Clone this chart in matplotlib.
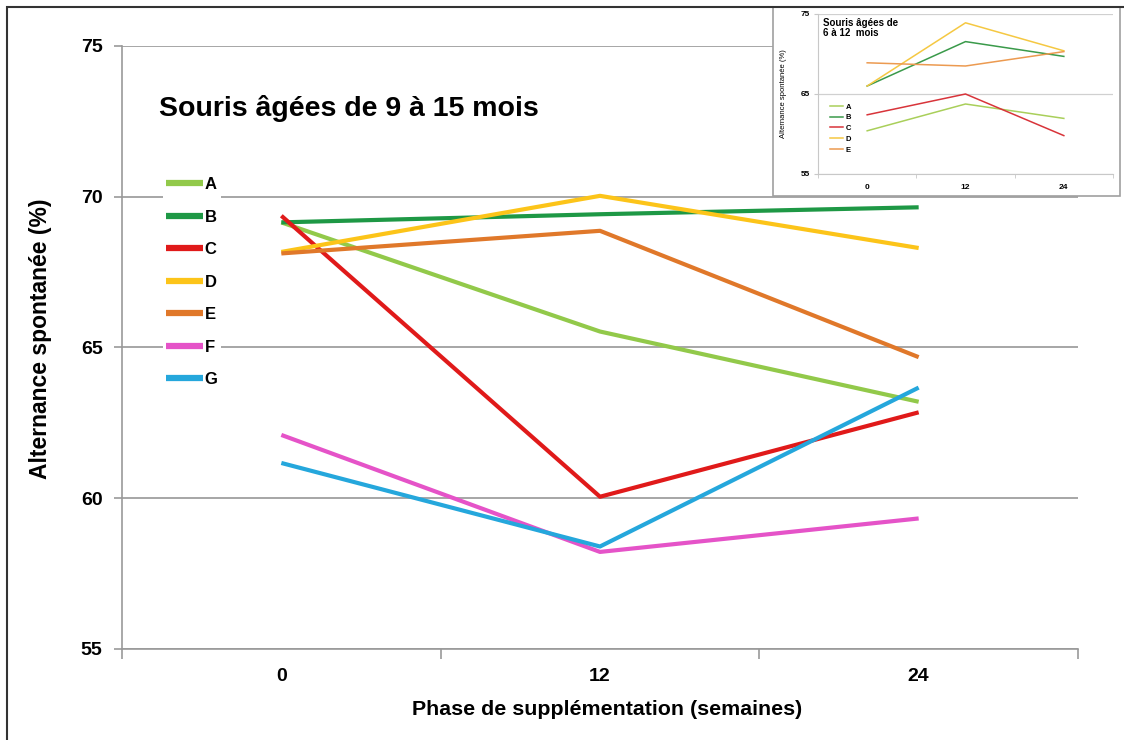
import numpy as np
import matplotlib
matplotlib.use('Agg')
import matplotlib.pyplot as plt
from matplotlib.patches import Rectangle

plt.rcParams['font.family'] = ['Liberation Sans', 'DejaVu Sans']

# donnees principales : souris de 9 a 15 mois
semaines = ['0', '12', '24']
groupes = ['A', 'B', 'C', 'D', 'E', 'F', 'G']
couleurs = ['#92c94a', '#1e9845', '#e01a1a', '#fcc419', '#e0782a', '#e553c8', '#25a7dc']
val_A = [69.15, 65.53, 63.2]
val_B = [69.15, 69.42, 69.65]
val_C = [69.37, 60.05, 62.85]
val_D = [68.17, 70.03, 68.3]
val_E = [68.12, 68.87, 64.68]
val_F = [62.1, 58.22, 59.33]
val_G = [61.17, 58.4, 63.67]
series = [val_A, val_B, val_C, val_D, val_E, val_F, val_G]

# encart : souris de 6 a 12 mois
groupes_in = ['A', 'B', 'C', 'D', 'E']
couleurs_in = ['#a9cf5a', '#3a9a4a', '#d8343a', '#f5c842', '#ec9a50']
in_A = [60.4, 63.75, 61.95]
in_B = [66.0, 71.55, 69.7]
in_C = [62.4, 65.0, 59.8]
in_D = [66.0, 73.9, 70.4]
in_E = [68.9, 68.5, 70.3]
series_in = [in_A, in_B, in_C, in_D, in_E]

W, H = 1124, 740
fig = plt.figure(figsize=(W / 100, H / 100), dpi=100)

ax = fig.add_axes([122 / W, 1 - 649 / H, (1078 - 122) / W, (649 - 46) / H])
x = np.arange(len(semaines))
for nom, vals, c in zip(groupes, series, couleurs):
    ax.plot(x, vals, color=c, lw=3, label=nom, solid_capstyle='butt')

ax.set_xlim(-0.5, 2.5)
ax.set_ylim(55, 75)
ax.set_yticks([55, 60, 65, 70, 75])
ax.set_yticklabels(['55', '60', '65', '70', '75'], fontsize=14, fontweight='bold')
ax.set_xticks(x)
ax.set_xticklabels(semaines, fontsize=14, fontweight='bold')
ax.set_xticks([-0.5, 0.5, 1.5, 2.5], minor=True)
ax.tick_params(axis='x', which='major', length=0, pad=14)
ax.tick_params(axis='x', which='minor', length=7, color='#999999', width=1.2)
ax.tick_params(axis='y', length=6, color='#999999', width=1.2, pad=8)
for s in ['top', 'right']:
    ax.spines[s].set_visible(False)
for s in ['left', 'bottom']:
    ax.spines[s].set_color('#999999')
    ax.spines[s].set_linewidth(1.2)
ax.yaxis.grid(True, color='#a6a6a6', lw=1.4)
ax.set_axisbelow(True)

ax.set_xlabel('Phase de supplémentation (semaines)', fontsize=15.4, fontweight='bold')
ax.xaxis.set_label_coords(0.507, -0.085)
ax.set_ylabel('Alternance spontanée (%)', fontsize=16.5, fontweight='bold')
ax.yaxis.set_label_coords(-0.073, 0.515)

ax.text(-0.384, 72.68, 'Souris âgées de 9 à 15 mois', fontsize=20.5, fontweight='bold')

leg = ax.legend(loc='upper left', bbox_to_anchor=(0.043, 0.788), borderaxespad=0,
                frameon=True, facecolor='white', edgecolor='none', framealpha=1,
                handlelength=2.2, handletextpad=0.1, labelspacing=1.05,
                borderpad=0.2, prop={'weight': 'bold', 'size': 12})
for h in leg.get_lines():
    h.set_linewidth(4.5)

# cadre exterieur
fig.patches.append(Rectangle((7 / W, -0.1), 1.2, 1.1 - 7 / H, transform=fig.transFigure,
                             fill=False, edgecolor='#333333', lw=1.5, zorder=3))
# fond de l'encart
fig.patches.append(Rectangle((773 / W, 1 - 196 / H), (1120 - 773) / W, (196 - 7) / H,
                             transform=fig.transFigure, facecolor='white',
                             edgecolor='#a0a0a0', lw=1.2, zorder=1))

ax_in = fig.add_axes([818 / W, 1 - 174 / H, (1113 - 818) / W, (174 - 14) / H])
ax_in.set_zorder(2)
ax_in.patch.set_alpha(0)
for nom, vals, c in zip(groupes_in, series_in, couleurs_in):
    ax_in.plot(x, vals, color=c, lw=1.1, label=nom)
ax_in.set_xlim(-0.5, 2.5)
ax_in.set_ylim(55, 75)
ax_in.set_yticks([55, 65, 75])
ax_in.set_xticks(x)
ax_in.set_xticklabels(semaines, fontsize=6, fontweight='bold')
ax_in.set_yticklabels(['55', '65', '75'], fontsize=6, fontweight='bold')
ax_in.set_xticks([-0.5, 0.5, 1.5, 2.5], minor=True)
ax_in.tick_params(axis='x', which='major', length=0, pad=7)
ax_in.tick_params(axis='x', which='minor', length=3, color='#c8c8c8')
ax_in.tick_params(axis='y', length=3, color='#c8c8c8', pad=3)
for s in ['top', 'right']:
    ax_in.spines[s].set_visible(False)
for s in ['left', 'bottom']:
    ax_in.spines[s].set_color('#c8c8c8')
ax_in.yaxis.grid(True, color='#d0d0d0', lw=0.9)
ax_in.set_axisbelow(True)
ax_in.set_ylabel('Alternance spontanée (%)', fontsize=5.5)
ax_in.yaxis.set_label_coords(-0.105, 0.5)
ax_in.text(0.016, 0.975, 'Souris âgées de\n6 à 12  mois', transform=ax_in.transAxes,
           fontsize=7, fontweight='bold', va='top', ha='left', linespacing=1.05)
ax_in.legend(loc='upper left', bbox_to_anchor=(0.036, 0.452), borderaxespad=0,
             frameon=False, handlelength=1.7, handletextpad=0.3, labelspacing=0.45,
             borderpad=0.2, prop={'weight': 'bold', 'size': 5.5})

fig.savefig('out.png', dpi=100)
